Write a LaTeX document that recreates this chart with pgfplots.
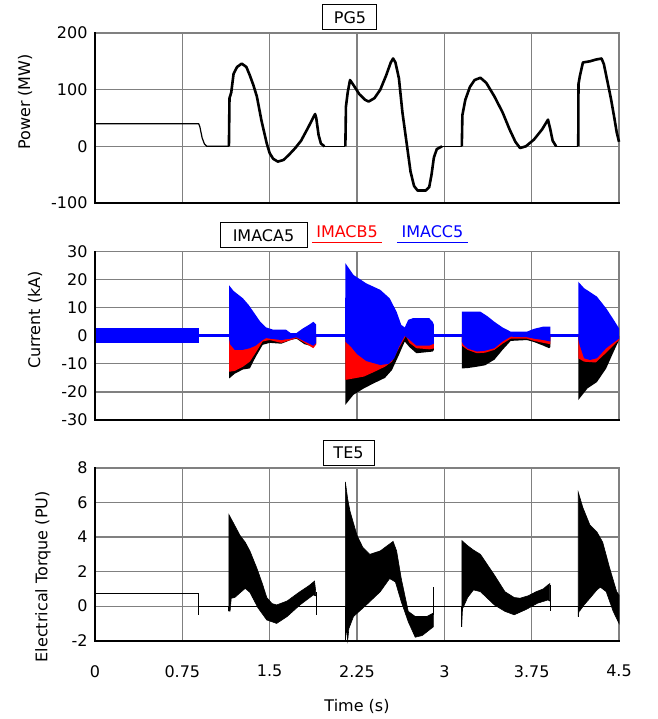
\documentclass[border=0pt]{standalone}
\usepackage{pgfplots}
\pgfplotsset{compat=1.18}
\usepackage{fontspec}
\setmainfont{DejaVu Sans}
\definecolor{gridgray}{RGB}{128,128,128}
\definecolor{cblue}{RGB}{0,0,255}
\definecolor{cred}{RGB}{255,0,0}
\pgfplotsset{
  panel/.style={
    scale only axis, width=524pt, xmin=0, xmax=4.5,
    xtick={0,0.75,1.5,2.25,3,3.75,4.5},
    axis line style={draw=gridgray, line width=1.2pt},
    major tick length=0pt,
    /pgf/number format/assume math mode=true,
    yticklabel style={xshift=-2pt},
    clip=false,
    anchor=south west,
  }
}
% grid lines (drawn first, below the data)
\newcommand{\vgrid}{\pgfplotsinvokeforeach{0.16667,0.33333,0.5,0.66667,0.83333}{\draw[gridgray, line width=1.2pt] (rel axis cs:##1,0) -- (rel axis cs:##1,1);}}
\newcommand{\hgrid}[1]{\pgfplotsinvokeforeach{#1}{\draw[gridgray, line width=1.2pt] (rel axis cs:0,##1) -- (rel axis cs:1,##1);}}
\newcommand{\blackframe}{\draw[black, line width=1.6pt, line cap=rect] (rel axis cs:0,1) -- (rel axis cs:0,0) -- (rel axis cs:1,0);}
\begin{document}
\fontsize{16}{19}\selectfont
\begin{tikzpicture}
\useasboundingbox (0,0) rectangle (657pt,719pt);

% ---------------- Panel 1: PG5 ----------------
\begin{axis}[panel, at={(95pt,516pt)}, height=170pt,
  ymin=-100, ymax=200, ytick={-100,0,100,200}, xticklabels={},
  ylabel={Power (MW)}, ylabel style={at={(rel axis cs:-0.1336,0.594)}, anchor=center}]
\vgrid
\hgrid{0.33333,0.66667}
\addplot[black, line width=1.2pt] coordinates {(0,40)(0.89,40)(0.9,35)(0.92,15)(0.94,4)(0.96,0)(1.15,0)};
\addplot[black, line width=1.2pt] coordinates {(1.96,0)(2.15,0)};
\addplot[black, line width=1.2pt] coordinates {(2.97,0)(3.15,0)};
\addplot[black, line width=1.2pt] coordinates {(3.95,0)(4.15,0)};
\addplot[black, line width=2.6pt, line join=round] coordinates {(1.15,0)(1.155,85)(1.17,95)(1.19,128)(1.22,140)(1.26,146)(1.3,140)(1.33,125)(1.36,108)(1.39,88)(1.43,45)(1.475,5)(1.5,-12)(1.53,-22)(1.57,-27)(1.62,-24)(1.67,-14)(1.72,-3)(1.77,10)(1.83,33)(1.89,57)(1.9,50)(1.92,20)(1.94,5)(1.97,0)};
\addplot[black, line width=2.6pt, line join=round] coordinates {(2.15,0)(2.155,70)(2.17,95)(2.19,117)(2.22,108)(2.27,92)(2.32,82)(2.35,79)(2.4,85)(2.45,100)(2.5,125)(2.54,148)(2.56,155)(2.58,148)(2.61,120)(2.64,60)(2.68,0)(2.71,-45)(2.74,-70)(2.77,-78)(2.84,-78)(2.87,-72)(2.89,-50)(2.91,-20)(2.935,-5)(2.98,0)};
\addplot[black, line width=2.6pt, line join=round] coordinates {(3.15,0)(3.155,55)(3.18,82)(3.22,105)(3.26,117)(3.31,121)(3.36,112)(3.43,88)(3.5,60)(3.56,30)(3.61,8)(3.65,-3)(3.7,0)(3.77,12)(3.84,30)(3.89,47)(3.91,30)(3.93,10)(3.96,0)};
\addplot[black, line width=2.6pt, line join=round] coordinates {(4.15,0)(4.152,110)(4.165,125)(4.19,148)(4.25,150)(4.3,153)(4.35,155)(4.37,145)(4.4,115)(4.43,85)(4.46,50)(4.48,25)(4.5,8)};
\blackframe
\node[draw, line width=1pt, minimum width=54pt, minimum height=25pt, inner sep=0pt, fill=white] at (rel axis cs:0.4866,1.0912) {PG5};
\end{axis}

% ---------------- Panel 2: currents ----------------
\begin{axis}[panel, at={(95pt,299pt)}, height=168.3pt,
  ymin=-30, ymax=30, ytick={-30,-20,-10,0,10,20,30}, xticklabels={},
  ylabel={Current (kA)}, ylabel style={at={(rel axis cs:-0.1145,0.594)}, anchor=center}]
\vgrid
\hgrid{0.16667,0.33333,0.5,0.66667,0.83333}
\addplot[fill=cblue, draw=none] coordinates {(0,2.7)(0.89,2.7)(0.89,-2.7)(0,-2.7)};
\addplot[cblue, line width=3pt] coordinates {(0.89,0)(4.5,0)};
\addplot[fill=black, draw=none] coordinates {(1.152,0)(1.152,-15.2)(1.2,-13.5)(1.27,-12)(1.33,-11.6)(1.38,-7.5)(1.44,-3.2)(1.5,-2.5)(1.6,-2.8)(1.68,-1.5)(1.73,-1)(1.8,-3)(1.875,-3.8)(1.9,-3)(1.9,0)};
\addplot[fill=cred, draw=none] coordinates {(1.152,0)(1.152,-12.8)(1.2,-12.5)(1.27,-11)(1.33,-9.2)(1.38,-6)(1.44,-2)(1.5,-1.5)(1.6,-2.5)(1.68,-1.5)(1.73,-0.8)(1.8,-2.5)(1.875,-4.4)(1.9,-3)(1.9,0)};
\addplot[fill=cblue, draw=none] coordinates {(1.152,0)(1.152,18)(1.19,16)(1.27,13.4)(1.32,11)(1.36,8.6)(1.42,5)(1.47,3)(1.53,2.2)(1.64,2.2)(1.68,1)(1.73,1)(1.78,2.5)(1.84,4)(1.875,5)(1.9,4)(1.9,-2.5)(1.875,-3.5)(1.8,-2)(1.73,-0.5)(1.68,-1)(1.6,-1.5)(1.5,-1)(1.47,-0.8)(1.44,-1.5)(1.38,-3.5)(1.33,-4.4)(1.27,-5)(1.2,-5)(1.16,-3)(1.152,-1)};
\addplot[fill=black, draw=none] coordinates {(2.15,0)(2.15,-24.6)(2.22,-21)(2.31,-18.7)(2.4,-16.8)(2.49,-15)(2.55,-12.2)(2.61,-6.8)(2.66,-2)(2.7,-4)(2.76,-6.2)(2.9,-5.6)(2.91,-5)(2.91,0)};
\addplot[fill=cred, draw=none] coordinates {(2.15,0)(2.15,-15.7)(2.22,-15.2)(2.31,-14.5)(2.4,-12.8)(2.49,-11)(2.55,-9.2)(2.61,-4.4)(2.67,0)(2.7,-2.5)(2.76,-4.4)(2.87,-4.8)(2.91,-4.5)(2.91,0)};
\addplot[fill=cblue, draw=none] coordinates {(2.148,0)(2.15,25.9)(2.22,21.7)(2.33,18.7)(2.45,16.4)(2.53,13.4)(2.59,8.6)(2.63,3.9)(2.66,3)(2.69,5.7)(2.73,6.3)(2.87,6.3)(2.9,5)(2.91,4)(2.91,-2.8)(2.87,-3.5)(2.76,-3.5)(2.69,-1)(2.66,0)(2.61,-4)(2.57,-8)(2.52,-10)(2.45,-10.4)(2.33,-9)(2.25,-6.5)(2.2,-4)(2.15,-2)};
\addplot[fill=black, draw=none] coordinates {(3.15,0)(3.15,-11.6)(3.2,-11.5)(3.28,-11)(3.35,-10.5)(3.43,-8.5)(3.5,-5)(3.57,-1.8)(3.71,-1.5)(3.77,-2.2)(3.85,-3.5)(3.9,-4.4)(3.91,-4)(3.91,0)};
\addplot[fill=cred, draw=none] coordinates {(3.15,0)(3.15,-3.5)(3.2,-5)(3.28,-6.2)(3.35,-6)(3.43,-5)(3.5,-2.8)(3.57,-1)(3.71,-1)(3.77,-1.8)(3.85,-2.5)(3.91,-3)(3.91,0)};
\addplot[fill=cblue, draw=none] coordinates {(3.15,0)(3.15,8.6)(3.31,8.6)(3.37,7)(3.43,5)(3.5,3)(3.57,1.5)(3.71,1.5)(3.77,2.5)(3.85,3.3)(3.91,3.3)(3.91,-2)(3.85,-1.5)(3.77,-1)(3.71,-0.5)(3.57,-0.3)(3.5,-2)(3.43,-4.4)(3.35,-5.3)(3.28,-5.6)(3.2,-4.5)(3.16,-3)(3.15,-2)};
\addplot[fill=black, draw=none] coordinates {(4.15,0)(4.15,-22.9)(4.23,-18.7)(4.31,-16.5)(4.39,-11.6)(4.45,-6)(4.5,-1.5)(4.5,0)};
\addplot[fill=cred, draw=none] coordinates {(4.15,0)(4.15,-8)(4.2,-9.2)(4.3,-9.5)(4.39,-6)(4.45,-3.5)(4.5,-1.5)(4.5,0)};
\addplot[fill=cblue, draw=none] coordinates {(4.15,0)(4.15,19.3)(4.2,17)(4.31,14)(4.39,9.8)(4.45,6)(4.5,2.7)(4.5,-1)(4.45,-2.5)(4.39,-4.4)(4.31,-8)(4.25,-8.6)(4.2,-8)(4.16,-3)(4.15,-1)};
\blackframe
\node[draw, line width=1pt, minimum width=87pt, minimum height=25pt, inner sep=0pt, fill=white] at (rel axis cs:0.3216,1.0963) {IMACA5};
\node[text=cred] at (rel axis cs:0.481,1.12) {IMACB5};
\draw[cred, line width=1pt] (rel axis cs:0.414,1.0517) -- (rel axis cs:0.548,1.0517);
\node[text=cblue] at (rel axis cs:0.644,1.12) {IMACC5};
\draw[cblue, line width=1pt] (rel axis cs:0.576,1.0517) -- (rel axis cs:0.712,1.0517);
\end{axis}

% ---------------- Panel 3: TE5 ----------------
\begin{axis}[panel, at={(95pt,78.3pt)}, height=172.7pt,
  ymin=-2, ymax=8, ytick={-2,0,2,4,6,8},
  xticklabels={0,0.75,1.5,2.25,3,3.75,4.5}, xticklabel style={yshift=-19pt},
  xlabel={Time (s)}, xlabel style={at={(rel axis cs:0.5,-0.382)}, anchor=center},
  ylabel={Electrical Torque (PU)}, ylabel style={at={(rel axis cs:-0.0992,0.37)}, anchor=center}]
\vgrid
\hgrid{0.2,0.4,0.6,0.8}
\addplot[black, line width=1.2pt] coordinates {(0,0.75)(0.89,0.75)(0.89,-0.5)(0.89,0)(4.5,0)};
\addplot[black, line width=1.2pt] coordinates {(1.15,-0.3)(1.15,0)};
\addplot[black, line width=1.2pt] coordinates {(1.9,0.8)(1.9,-0.5)};
\addplot[black, line width=1.2pt] coordinates {(2.15,-2)(2.15,0)};
\addplot[black, line width=1.2pt] coordinates {(2.91,1.1)(2.91,-0.5)};
\addplot[black, line width=1.2pt] coordinates {(3.15,-1.2)(3.15,0)};
\addplot[black, line width=1.2pt] coordinates {(3.91,1.2)(3.91,-0.3)};
\addplot[black, line width=1.2pt] coordinates {(4.15,-0.6)(4.15,0)};
\addplot[fill=black, draw=black, line width=0.6pt] coordinates {(1.15,-0.3)(1.15,5.3)(1.19,4.8)(1.245,4.1)(1.29,3.7)(1.33,3.2)(1.39,2.2)(1.44,1.25)(1.475,0.5)(1.52,0.15)(1.56,0.07)(1.65,0.3)(1.76,0.84)(1.84,1.2)(1.885,1.45)(1.895,0.9)(1.895,0.6)(1.875,0.65)(1.76,0.07)(1.65,-0.6)(1.56,-1.0)(1.475,-0.8)(1.4,-0.1)(1.33,0.8)(1.29,1.03)(1.25,0.8)(1.2,0.5)(1.17,0.46)(1.16,-0.3)};
\addplot[fill=black, draw=black, line width=0.6pt] coordinates {(2.15,-2)(2.15,7.2)(2.17,6.2)(2.19,5.5)(2.25,4.1)(2.3,3.4)(2.36,3.0)(2.45,3.2)(2.53,3.6)(2.56,3.75)(2.59,3.2)(2.63,1.6)(2.69,-0.3)(2.75,-0.6)(2.85,-0.6)(2.905,-0.4)(2.905,-1.2)(2.81,-1.7)(2.75,-1.8)(2.69,-0.9)(2.63,0.26)(2.58,1.4)(2.53,1.6)(2.45,0.84)(2.33,0.07)(2.22,-0.6)(2.18,-1.3)(2.17,-2)(2.16,-1.4)};
\addplot[fill=black, draw=black, line width=0.6pt] coordinates {(3.15,-1.2)(3.15,3.8)(3.2,3.5)(3.25,3.25)(3.31,3.0)(3.37,2.4)(3.43,1.8)(3.52,0.84)(3.6,0.5)(3.65,0.46)(3.72,0.6)(3.79,0.84)(3.85,1.0)(3.89,1.23)(3.905,1.3)(3.905,0.3)(3.89,0.36)(3.8,0.17)(3.7,-0.2)(3.6,-0.5)(3.52,-0.3)(3.43,0.07)(3.31,0.84)(3.25,0.94)(3.2,0.5)(3.16,-0.1)};
\addplot[fill=black, draw=black, line width=0.6pt] coordinates {(4.15,-0.6)(4.15,6.6)(4.19,5.7)(4.25,4.7)(4.31,4.3)(4.36,3.7)(4.42,2.2)(4.48,0.84)(4.5,0.65)(4.5,-1.0)(4.45,-0.3)(4.39,0.84)(4.34,1.1)(4.31,0.94)(4.25,0.46)(4.2,0.07)(4.16,-0.3)};
\blackframe
\node[draw, line width=1pt, minimum width=51pt, minimum height=25pt, inner sep=0pt, fill=white] at (rel axis cs:0.4838,1.0874) {TE5};
\end{axis}
\end{tikzpicture}
\end{document}
